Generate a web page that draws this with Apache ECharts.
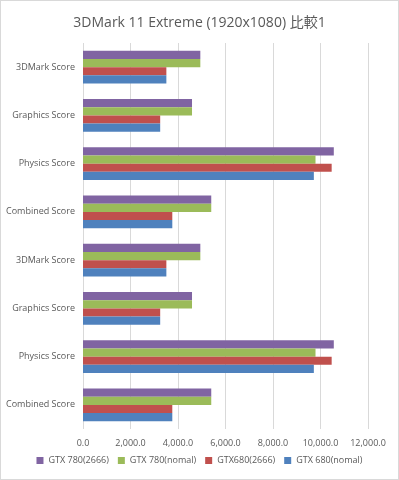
<!DOCTYPE html>
<html>
<head>
<meta charset="utf-8">
<script src="https://cdn.jsdelivr.net/npm/echarts@6/dist/echarts.min.js"></script>
<style>
html, body { margin: 0; padding: 0; background: #fff; }
#chart { width: 397px; height: 478px; border: 1px solid #d9d9d9; }
</style>
</head>
<body>
<div id="chart"></div>
<script>
// 3DMark 11 Extreme 比較データ
const categories = ['3DMark Score', 'Graphics Score', 'Physics Score', 'Combined Score',
  '3DMark Score', 'Graphics Score', 'Physics Score', 'Combined Score']
const gtx780_2666 = [4940, 4590, 10560, 5400, 4940, 4590, 10560, 5400]
const gtx780_nomal = [4940, 4590, 9790, 5400, 4940, 4590, 9790, 5400]
const gtx680_2666 = [3510, 3250, 10470, 3760, 3510, 3250, 10470, 3760]
const gtx680_nomal = [3510, 3250, 9720, 3760, 3510, 3250, 9720, 3760]
const seriesNames = ['GTX 780(2666)', 'GTX 780(nomal)', 'GTX680(2666)', 'GTX 680(nomal)']
const colors = ['#8064A2', '#9BBB59', '#C0504D', '#4F81BD']

const font = '"Open Sans", "Noto Sans CJK JP", sans-serif'
let myChart = echarts.init(document.getElementById('chart'))
const values = [gtx780_2666, gtx780_nomal, gtx680_2666, gtx680_nomal]
myChart.setOption({
  animation: false,
  color: colors,
  title: {
    text: '3DMark 11 Extreme (1920x1080) 比較1',
    left: 'center',
    top: 10,
    textStyle: { fontFamily: font, fontSize: 14, fontWeight: 'normal', color: '#595959' }
  },
  legend: {
    data: seriesNames,
    bottom: 9,
    left: 'center',
    itemWidth: 7,
    itemHeight: 7,
    itemGap: 9,
    icon: 'rect',
    textStyle: { fontFamily: font, fontSize: 9, color: '#595959' }
  },
  grid: { left: 82, right: 30, top: 42, bottom: 50 },
  xAxis: {
    type: 'value',
    min: 0,
    max: 12000,
    interval: 2000,
    axisLine: { show: false },
    axisTick: { show: false },
    axisLabel: {
      fontFamily: font, fontSize: 9, color: '#595959', margin: 10,
      formatter: v => v.toLocaleString('en-US', { minimumFractionDigits: 1, maximumFractionDigits: 1 })
    },
    splitLine: { lineStyle: { color: '#d9d9d9' } }
  },
  yAxis: {
    type: 'category',
    inverse: true,
    data: categories,
    axisLine: { show: false },
    axisTick: { show: false },
    axisLabel: { fontFamily: font, fontSize: 9, color: '#595959', margin: 8 }
  },
  series: seriesNames.map((name, i) => ({
    name: name,
    type: 'bar',
    data: values[i],
    barGap: '0%',
    barCategoryGap: '32%'
  }))
})
</script>
</body>
</html>
